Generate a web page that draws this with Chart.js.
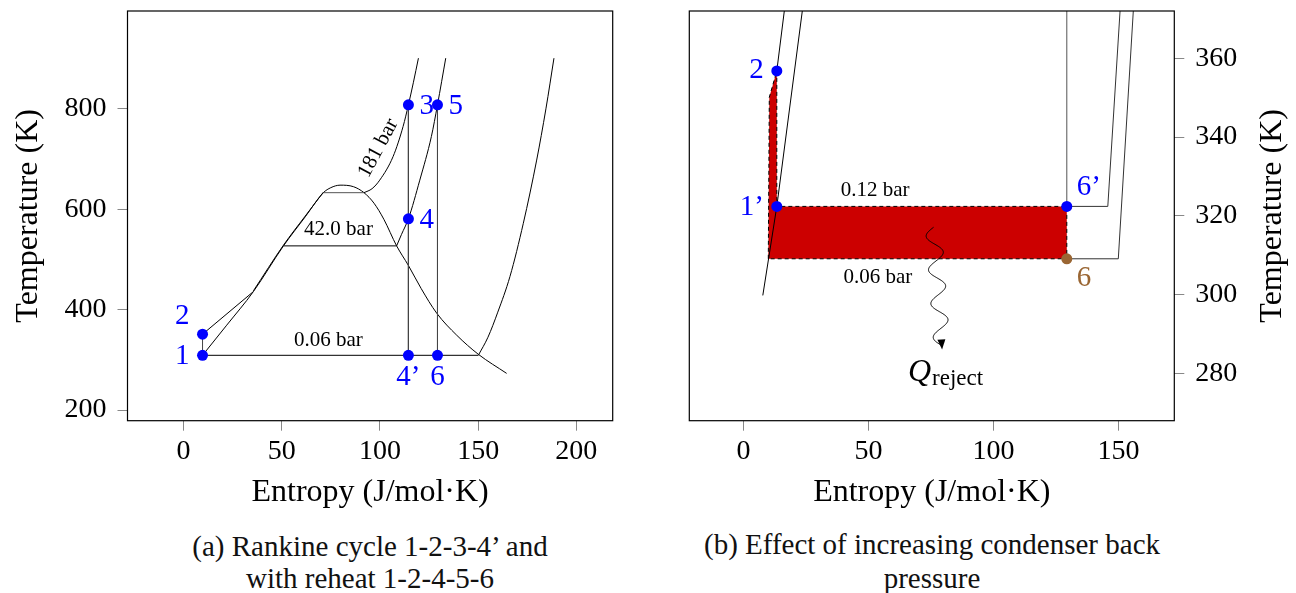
<!DOCTYPE html>
<html>
<head>
<meta charset="utf-8">
<script src="https://cdn.jsdelivr.net/npm/chart.js@4.4.1/dist/chart.umd.min.js"></script>
<style>
  body { margin: 0; background: #fff; width: 1296px; height: 593px; overflow: hidden; position: relative; }
  canvas { position: absolute; top: 0; }
  #graficoA { left: 0; }
  #graficoB { left: 648px; }
  .pie { position: absolute; text-align: center; font-family: "Liberation Serif", serif; font-size: 29px; color: #111; white-space: nowrap; }
</style>
</head>
<body>
<canvas id="graficoA" width="648" height="520"></canvas>
<canvas id="graficoB" width="648" height="520"></canvas>
<div class="pie" style="left:120px; width:500px; top:530px; line-height:32px;">(a) Rankine cycle 1-2-3-4’ and<br>with reheat 1-2-4-5-6</div>
<div class="pie" style="left:632px; width:600px; top:527px; line-height:34px;">(b) Effect of increasing condenser back<br>pressure</div>
<script>
// ===============================
// Datos (a): diagrama T-s, ciclo Rankine con recalentamiento
// ===============================
const ticksSA = [0, 50, 100, 150, 200];
const ticksTA = [200, 400, 600, 800];

// campana de saturacion
const domoS = [9.7, 22, 35.6, 50.9, 62, 71.2, 75, 79.7, 86.5, 91.9, 97, 102, 108.5, 114.5, 121, 128.9, 139.1, 150.1, 164.5];
const domoT = [309, 369, 436, 527, 585, 633, 643, 648, 645, 633, 612, 580, 527, 488, 442, 393, 349, 311, 273];

// isobara 181 bar
const p181LiqS = [9.7, 35.6];
const p181LiqT = [351, 436];
const p181LiqDomoS = [35.6, 50.9, 62, 71.2];
const p181LiqDomoT = [437.5, 528.5, 586.5, 634];
const p181EbuS = [71.2, 91.9];
const p181EbuT = [633, 633];
const p181VapS = [91.9, 96, 99.9, 106.7, 111.8, 114.5, 117, 119.6];
const p181VapT = [633, 641, 658, 705, 765, 808, 852, 901];

// isobara 42.0 bar
const p42EbuS = [50.9, 108.5];
const p42EbuT = [527, 527];
const p42VapS = [108.5, 111, 114.5, 120.3, 126.2, 129.3, 133.5];
const p42VapT = [527, 550, 581, 658, 745, 808, 901];

// isobara 0.06 bar
const p006EbuS = [9.7, 150.1];
const p006EbuT = [309, 309];
const p006VapS = [150.1, 155, 160, 166.2, 173, 179.8, 184.5, 188.6];
const p006VapT = [309, 345, 395, 466, 572, 698, 800, 901];

// procesos del ciclo
const bomba12S = [9.7, 9.7];
const bomba12T = [309, 351];
const turbina34S = [114.5, 114.5];
const turbina34T = [808, 309];
const turbina56S = [129.3, 129.3];
const turbina56T = [808, 309];

// estados
const estadosA = ["1", "2", "3", "4", "4’", "5", "6"];
const estadosSA = [9.7, 9.7, 114.5, 114.5, 114.5, 129.3, 129.3];
const estadosTA = [309, 351, 808, 581, 309, 808, 309];

// ===============================
// Datos (b): aumento de la presion del condensador
// ===============================
const ticksSB = [0, 50, 100, 150];
const ticksTB = [280, 300, 320, 340, 360];

const liqSatS = [7.7, 13.3, 23.5];
const liqSatT = [299.8, 322.4, 372];
const liqAltaS = [13.3, 16.3];
const liqAltaT = [356.8, 372];
const vapSatS = [129.3, 129.3];
const vapSatT = [322.4, 372];
const p012S = [129.3, 145.7, 150.6];
const p012T = [322.4, 322.4, 372];
const p006BS = [129.3, 149.9, 155.9];
const p006BT = [309.1, 309.1, 372];

// area de calor rechazado extra
const rechazoS = [9.9, 10.3, 13.3, 13.3, 129.3, 129.3, 9.9];
const rechazoT = [309.1, 350.1, 356.8, 322.4, 322.4, 309.1, 309.1];

const estadosB = ["2", "1’", "6’"];
const estadosSB = [13.3, 13.3, 129.3];
const estadosTB = [356.8, 322.4, 322.4];
const estado6S = [129.3];
const estado6T = [309.1];

// flecha ondulada Q_reject
const flechaS = [76, 79.3];
const flechaT = [317.1, 287.1];

// ===============================
// Utilidades
// ===============================
Chart.defaults.font.family = "'Liberation Serif', serif";
Chart.defaults.color = "#000";

const AZUL = "#0000ff";
const CAFE = "#9a6633";

function pares(xs, ys) {
  return xs.map((x, i) => ({ x, y: ys[i] }));
}

function linea(xs, ys, extra) {
  return Object.assign({
    data: pares(xs, ys),
    showLine: true,
    borderColor: "#000",
    borderWidth: 1,
    pointRadius: 0,
    fill: false
  }, extra || {});
}

function curva(xs, ys, extra) {
  return linea(xs, ys, Object.assign({ cubicInterpolationMode: "monotone" }, extra || {}));
}

function puntos(xs, ys, color) {
  return {
    data: pares(xs, ys),
    showLine: false,
    pointRadius: 5.5,
    pointBackgroundColor: color,
    pointBorderWidth: 0
  };
}

function ejeX(min, max, ticks) {
  return {
    type: "linear", min, max,
    afterBuildTicks: s => { s.ticks = ticks.map(v => ({ value: v })); },
    afterFit: s => { s.height = 99.3; s.paddingLeft = 0; s.paddingRight = 0; },
    grid: { drawOnChartArea: false, drawTicks: true, tickLength: 10, color: "#888" },
    border: { display: false },
    ticks: { padding: 4, font: { size: 28 } },
    title: { display: true, text: "Entropy (J/mol·K)", font: { size: 32 }, padding: { top: 0, bottom: 8 } }
  };
}

function ejeY(min, max, ticks, posicion, ancho, conTitulo) {
  return {
    type: "linear", min, max, position: posicion,
    afterBuildTicks: s => { s.ticks = ticks.map(v => ({ value: v })); },
    afterFit: s => { s.width = ancho; s.paddingTop = 0; s.paddingBottom = 0; },
    grid: { drawOnChartArea: false, drawTicks: true, tickLength: 10, color: "#888" },
    border: { display: false },
    ticks: { padding: 11, font: { size: 28 } },
    title: { display: conTitulo, text: "Temperature (K)", font: { size: 32 }, padding: { top: 9, bottom: 0 } }
  };
}

// marco, textos y anotaciones
const anotaciones = {
  id: "anotaciones",
  afterDraw(chart, args, opts) {
    const { ctx, chartArea: a, scales: { x, y } } = chart;
    ctx.save();
    ctx.strokeStyle = "#000";
    ctx.lineWidth = 1.2;
    ctx.strokeRect(a.left, a.top, a.right - a.left, a.bottom - a.top);

    (opts.textos || []).forEach(o => {
      ctx.save();
      ctx.translate(x.getPixelForValue(o.s) + (o.dx || 0), y.getPixelForValue(o.T) + (o.dy || 0));
      if (o.rot) ctx.rotate(o.rot * Math.PI / 180);
      ctx.font = o.font;
      ctx.fillStyle = o.color || "#000";
      ctx.textAlign = o.align || "center";
      ctx.textBaseline = "middle";
      ctx.fillText(o.t, 0, 0);
      ctx.restore();
    });

    if (opts.tituloDerecho) {
      ctx.save();
      ctx.translate(opts.tituloDerecho.x, (a.top + a.bottom) / 2);
      ctx.rotate(-Math.PI / 2);
      ctx.font = "32px 'Liberation Serif', serif";
      ctx.fillStyle = "#000";
      ctx.textAlign = "center";
      ctx.textBaseline = "middle";
      ctx.fillText("Temperature (K)", 0, 0);
      ctx.restore();
    }

    if (opts.flecha) {
      const x0 = x.getPixelForValue(flechaS[0]), y0 = y.getPixelForValue(flechaT[0]);
      const x1 = x.getPixelForValue(flechaS[1]), y1 = y.getPixelForValue(flechaT[1]);
      const dx = x1 - x0, dy = y1 - y0, L = Math.hypot(dx, dy);
      const ux = dx / L, uy = dy / L, nx = -uy, ny = ux;
      ctx.beginPath();
      for (let i = 0; i <= 200; i++) {
        const t = i / 200;
        const w = 8 * Math.sin(t * Math.PI * 2 * 3.5);
        const px = x0 + dx * t + nx * w, py = y0 + dy * t + ny * w;
        if (i === 0) ctx.moveTo(px, py); else ctx.lineTo(px, py);
      }
      ctx.lineWidth = 1;
      ctx.strokeStyle = "#000";
      ctx.stroke();
      ctx.beginPath();
      ctx.moveTo(x1 + ux * 4, y1 + uy * 4);
      ctx.lineTo(x1 - ux * 6 + nx * 4, y1 - uy * 6 + ny * 4);
      ctx.lineTo(x1 - ux * 6 - nx * 4, y1 - uy * 6 - ny * 4);
      ctx.closePath();
      ctx.fillStyle = "#000";
      ctx.fill();

      const q = opts.flecha;
      const cx = x.getPixelForValue(q.s), cy = y.getPixelForValue(q.T);
      ctx.textBaseline = "alphabetic";
      ctx.textAlign = "left";
      ctx.font = "italic 32px 'Liberation Serif', serif";
      const wQ = ctx.measureText("Q").width;
      ctx.font = "23px 'Liberation Serif', serif";
      const wR = ctx.measureText("reject").width;
      const xi = cx - (wQ + wR) / 2;
      ctx.font = "italic 32px 'Liberation Serif', serif";
      ctx.fillText("Q", xi, cy);
      ctx.font = "23px 'Liberation Serif', serif";
      ctx.fillText("reject", xi + wQ + 1, cy + 4);
    }
    ctx.restore();
  }
};

const fuenteEstado = "29px 'Liberation Serif', serif";
const fuentePresion = "21px 'Liberation Serif', serif";

// ===============================
// Grafico (a)
// ===============================
const desplazA = [[-13, 1, "right"], [-13, -18, "right"], [11, 2, "left"], [11, 2, "left"], [0, 22, "center"], [11, 2, "left"], [0, 22, "center"]];

new Chart(document.getElementById("graficoA"), {
  type: "scatter",
  data: {
    datasets: [
      puntos(estadosSA, estadosTA, AZUL),
      linea(bomba12S, bomba12T, { borderColor: "#444" }),
      linea(turbina34S, turbina34T, { borderColor: "#444" }),
      linea(turbina56S, turbina56T, { borderColor: "#444" }),
      linea(p181LiqS, p181LiqT),
      curva(p181LiqDomoS, p181LiqDomoT),
      linea(p181EbuS, p181EbuT, { borderColor: "#555" }),
      curva(p181VapS, p181VapT),
      linea(p42EbuS, p42EbuT),
      curva(p42VapS, p42VapT),
      linea(p006EbuS, p006EbuT),
      curva(p006VapS, p006VapT),
      curva(domoS, domoT)
    ]
  },
  options: {
    responsive: false,
    animation: false,
    devicePixelRatio: 1,
    layout: { padding: { top: 11, right: 35.3, left: 0, bottom: 0 } },
    plugins: {
      legend: { display: false },
      tooltip: { enabled: false },
      anotaciones: {
        textos: [
          ...estadosA.map((t, i) => ({
            t, s: estadosSA[i], T: estadosTA[i], dx: desplazA[i][0], dy: desplazA[i][1],
            align: desplazA[i][2], font: fuenteEstado, color: AZUL
          })),
          { t: "0.06 bar", s: 73.8, T: 339.5, font: fuentePresion },
          { t: "42.0 bar", s: 78.9, T: 558.8, font: fuentePresion },
          { t: "181 bar", s: 99.2, T: 721.6, rot: -62, font: fuentePresion }
        ]
      }
    },
    scales: {
      x: ejeX(-28.5, 218.5, ticksSA),
      y: ejeY(178.7, 995, ticksTA, "left", 127.5, true)
    }
  },
  plugins: [anotaciones]
});

// ===============================
// Grafico (b)
// ===============================
const desplazB = [[-13, 0, "right"], [-13, 1, "right"], [10, -19, "left"]];

new Chart(document.getElementById("graficoB"), {
  type: "scatter",
  data: {
    datasets: [
      puntos(estadosSB, estadosTB, AZUL),
      puntos(estado6S, estado6T, CAFE),
      linea(liqSatS, liqSatT),
      linea(liqAltaS, liqAltaT),
      linea(vapSatS, vapSatT, { borderColor: "#555" }),
      linea(p012S, p012T, { borderColor: "#333" }),
      linea(p006BS, p006BT, { borderColor: "#333" }),
      linea(rechazoS, rechazoT, {
        fill: "shape",
        backgroundColor: "#cc0000",
        borderDash: [4, 3]
      })
    ]
  },
  options: {
    responsive: false,
    animation: false,
    devicePixelRatio: 1,
    layout: { padding: { top: 11, right: 0, left: 41.3, bottom: 0 } },
    plugins: {
      legend: { display: false },
      tooltip: { enabled: false },
      anotaciones: {
        tituloDerecho: { x: 625 },
        flecha: { s: 80.6, T: 278.2 },
        textos: [
          ...estadosB.map((t, i) => ({
            t, s: estadosSB[i], T: estadosTB[i], dx: desplazB[i][0], dy: desplazB[i][1],
            align: desplazB[i][2], font: fuenteEstado, color: AZUL
          })),
          { t: "6", s: estado6S[0], T: estado6T[0], dx: 10, dy: 20, align: "left", font: fuenteEstado, color: CAFE },
          { t: "0.12 bar", s: 52.6, T: 326.4, font: fuentePresion },
          { t: "0.06 bar", s: 53.7, T: 304.4, font: fuentePresion }
        ]
      }
    },
    scales: {
      x: ejeX(-21.7, 172.3, ticksSB),
      y: ejeY(268, 372, ticksTB, "right", 121.7, false)
    }
  },
  plugins: [anotaciones]
});
</script>
</body>
</html>
